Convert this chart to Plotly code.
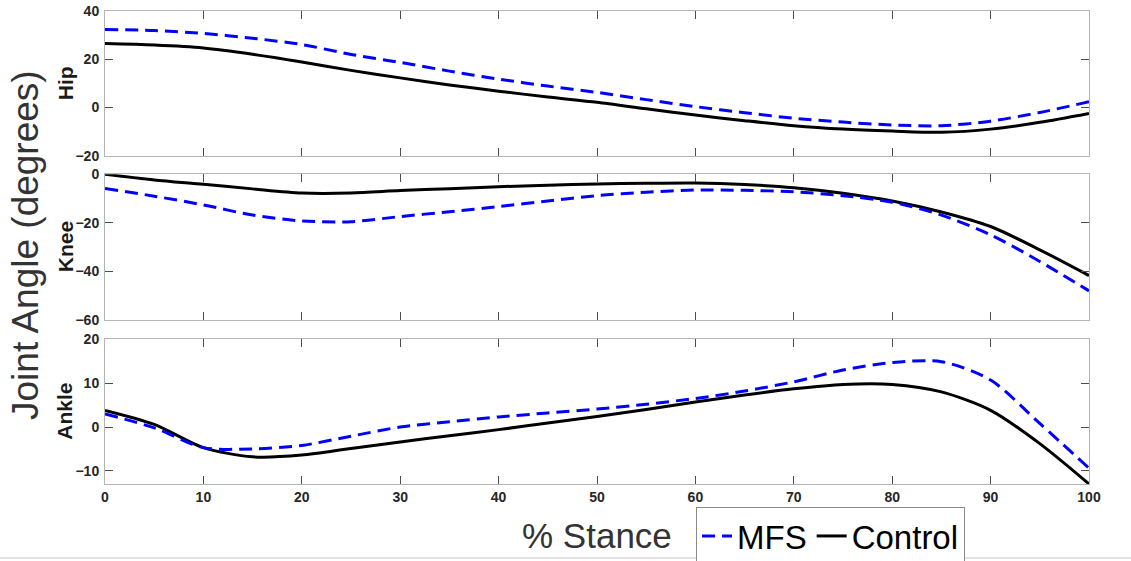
import plotly.graph_objects as go

# ---------------- data ----------------
stance = [0, 5, 10, 15, 20, 25, 30, 35, 40, 45, 50, 55, 60, 65, 70, 75, 80, 85, 90, 95, 100]

hip_control = [26.4, 25.8, 24.6, 22.0, 18.8, 15.3, 12.2, 9.3, 6.7, 4.3, 2.1, -0.6, -3.2, -5.5,
               -7.6, -9.0, -9.8, -10.3, -9.0, -6.2, -2.5]
hip_mfs = [32.2, 31.8, 30.6, 28.6, 26.0, 21.9, 18.6, 15.0, 11.7, 8.8, 6.2, 3.2, 0.3, -2.2,
           -4.5, -6.1, -7.3, -7.6, -5.7, -2.1, 2.3]

knee_control = [0.0, -2.3, -4.1, -6.0, -7.7, -7.7, -6.7, -5.9, -5.1, -4.5, -4.0, -3.7, -3.6, -4.2,
                -5.5, -7.8, -11.0, -15.5, -21.5, -31.1, -41.7]
knee_mfs = [-5.8, -9.0, -12.6, -16.8, -19.2, -19.5, -17.4, -15.4, -13.3, -11.0, -8.8, -7.4, -6.5, -6.6,
            -7.2, -8.8, -11.5, -16.8, -24.9, -35.9, -48.0]

ankle_control = [3.8, 0.6, -4.7, -6.8, -6.4, -4.9, -3.4, -2.0, -0.6, 0.9, 2.4, 4.0, 5.7, 7.3,
                 8.7, 9.7, 9.7, 8.0, 3.8, -3.8, -13.0]
ankle_mfs = [3.0, -0.2, -4.7, -5.0, -4.2, -2.1, 0.0, 1.2, 2.3, 3.2, 4.1, 5.2, 6.5, 8.2,
             10.3, 13.0, 14.7, 14.9, 10.7, 0.8, -9.4]

x_ticks = [0, 10, 20, 30, 40, 50, 60, 70, 80, 90, 100]
hip_ticks = [-20, 0, 20, 40]
knee_ticks = [-60, -40, -20, 0]
ankle_ticks = [-10, 0, 10, 20]

panel_names = ["Hip", "Knee", "Ankle"]

# ---------------- layout geometry ----------------
W, H = 1131, 561
ML, MR, MT, MB = 105, 42, 10, 77
PH = H - MT - MB   # plot height in px
PW = W - ML - MR


def py(px):
    """pixel y (from top) -> paper fraction"""
    return (H - MB - px) / PH


def pxx(px):
    return (px - ML) / PW


dom_hip = [py(155.7), py(10.7)]
dom_knee = [py(320), py(174.3)]
dom_ankle = [py(484), py(339.3)]

fig = go.Figure()

BLUE = "#0000ff"
BLACK = "#000000"
DASH = "13px,7px"

panels = [
    ("x3", "y3", hip_mfs, hip_control),
    ("x2", "y2", knee_mfs, knee_control),
    ("x", "y", ankle_mfs, ankle_control),
]
for xa, ya, mfs, ctl in panels:
    legend = (xa == "x")
    fig.add_trace(go.Scatter(x=stance, y=ctl, xaxis=xa, yaxis=ya, mode="lines", name="Control",
                             line=dict(color=BLACK, width=3, shape="spline", smoothing=0.8),
                             showlegend=legend, legendrank=2))
    fig.add_trace(go.Scatter(x=stance, y=mfs, xaxis=xa, yaxis=ya, mode="lines", name="MFS",
                             line=dict(color=BLUE, width=3, dash=DASH, shape="spline", smoothing=0.8),
                             showlegend=legend, legendrank=1))

tickfont = dict(family="Liberation Sans, Arial", size=14, color="#262626", weight="bold")
FRAME = "#b4b4b4"
TICKC = "#4d4d4d"

common_x = dict(range=[0, 100], tickvals=x_ticks, ticks="inside", ticklen=8, tickcolor=TICKC,
                showline=True, linecolor=FRAME, linewidth=1, mirror="ticks", showgrid=False,
                zeroline=False, tickfont=tickfont)
common_y = dict(ticks="inside", ticklen=8, tickcolor=TICKC, showline=True, linecolor=FRAME,
                linewidth=1, mirror="ticks", showgrid=False, zeroline=False, tickfont=tickfont,
                ticklabelstandoff=2)

fig.update_layout(
    width=W, height=H,
    margin=dict(l=ML, r=MR, t=MT, b=MB, autoexpand=False),
    paper_bgcolor="white", plot_bgcolor="white",
    xaxis=dict(common_x, domain=[0, 1], anchor="y", showticklabels=True),
    xaxis2=dict(common_x, domain=[0, 1], anchor="y2", showticklabels=False, matches="x"),
    xaxis3=dict(common_x, domain=[0, 1], anchor="y3", showticklabels=False, matches="x"),
    yaxis=dict(common_y, domain=dom_ankle, anchor="x", range=[-13, 20], tickvals=ankle_ticks),
    yaxis2=dict(common_y, domain=dom_knee, anchor="x2", range=[-60, 0], tickvals=knee_ticks),
    yaxis3=dict(common_y, domain=dom_hip, anchor="x3", range=[-20, 40], tickvals=hip_ticks),
    legend=dict(orientation="h", x=pxx(696), y=py(507), xanchor="left", yanchor="top",
                font=dict(family="Liberation Sans, Arial", size=33, color="black"),
                bordercolor="#8a8a8a", borderwidth=1, bgcolor="white",
                itemwidth=30, tracegroupgap=0),
    showlegend=True,
)

ann = []
centers = [(155.7 + 10.7) / 2, (320 + 174.3) / 2, (484 + 339.3) / 2]
for name, c in zip(panel_names, centers):
    ann.append(dict(text=name, xref="paper", yref="paper", x=0, y=py(c), xshift=65 - ML,
                    xanchor="center", yanchor="middle", textangle=-90, showarrow=False,
                    font=dict(family="Liberation Sans, Arial", size=21, color="#1a1a1a",
                              weight="bold")))
ann.append(dict(text="Joint Angle (degrees)", xref="paper", yref="paper", x=0, y=py(245),
                xshift=25 - ML, xanchor="center", yanchor="middle", textangle=-90,
                showarrow=False, font=dict(family="Liberation Sans, Arial", size=37, color="#333333")))
ann.append(dict(text="% Stance", xref="paper", yref="paper", x=pxx(597), y=py(535),
                xanchor="center", yanchor="middle", showarrow=False,
                font=dict(family="Liberation Sans, Arial", size=35, color="#333333")))
fig.update_layout(annotations=ann)

fig.add_shape(type="line", xref="paper", yref="paper", x0=pxx(0), x1=pxx(W), y0=py(558), y1=py(558),
              line=dict(color="#c8c8c8", width=1), layer="below")

fig.write_html("out.html")
